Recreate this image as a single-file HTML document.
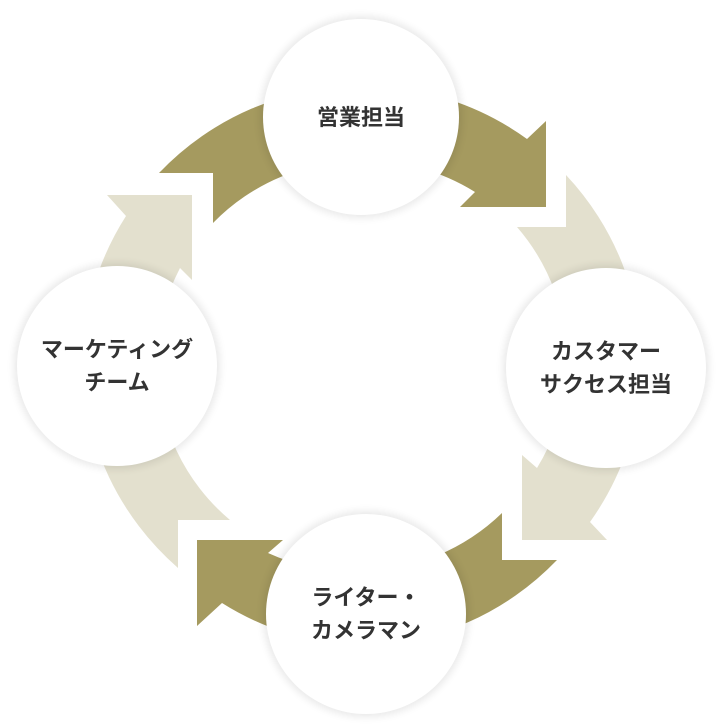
<!DOCTYPE html>
<html><head><meta charset="utf-8"><style>
html,body{margin:0;padding:0;background:#fff;width:718px;height:726px;overflow:hidden}
svg{position:absolute;left:0;top:0}
.c{position:absolute;border-radius:50%;background:#fff;box-shadow:0 0 8px 3px rgba(0,0,0,0.09);display:flex;align-items:center;justify-content:center;text-align:center;font-family:"Liberation Sans","Noto Sans CJK JP",sans-serif;font-weight:bold;font-size:22px;line-height:33px;color:#333}
</style></head><body>
<svg width="718" height="726">
<g fill="#a59a5f">
<path d="M362,86 A280,280 0 0 1 527,139 L546,121 L546,207 L460,207 L475,192 A205,205 0 0 0 362,161 Z"/>
<path d="M502,513 L502,560 L557,560 A280,280 0 0 1 362,646 L362,571 A205,205 0 0 0 502,513 Z"/>
<path d="M362,646 A280,280 0 0 1 222,603 L197,626 L197,540 L283,540 L268,553 A205,205 0 0 0 362,571 Z"/>
<path d="M159,173 L213,173 L213,223 A205,205 0 0 1 362,161 L362,86 A280,280 0 0 0 159,173 Z"/>
</g>
<g fill="#e3e0ce">
<path d="M566,175 L566,227 L517,227 A205,205 0 0 1 567,366 L642,366 A280,280 0 0 0 566,175 Z"/>
<path d="M642,366 A280,280 0 0 1 590,522 L607,540 L522,540 L522,455 L537,468 A205,205 0 0 0 567,366 Z"/>
<path d="M230,520 L178,520 L178,568 A280,280 0 0 1 82,366 L157,366 A205,205 0 0 0 230,520 Z"/>
<path d="M82,366 A280,280 0 0 1 126,216 L107,195 L192,195 L192,280 L180,268 A205,205 0 0 0 157,366 Z"/>
</g>
</svg>
<div class="c" style="left:263px;top:19px;width:196px;height:196px">営業担当</div>
<div class="c" style="left:506px;top:268px;width:200px;height:200px">カスタマー<br>サクセス担当</div>
<div class="c" style="left:266px;top:514px;width:200px;height:200px">ライター・<br>カメラマン</div>
<div class="c" style="left:17px;top:266px;width:200px;height:200px">マーケティング<br>チーム</div>
</body></html>
